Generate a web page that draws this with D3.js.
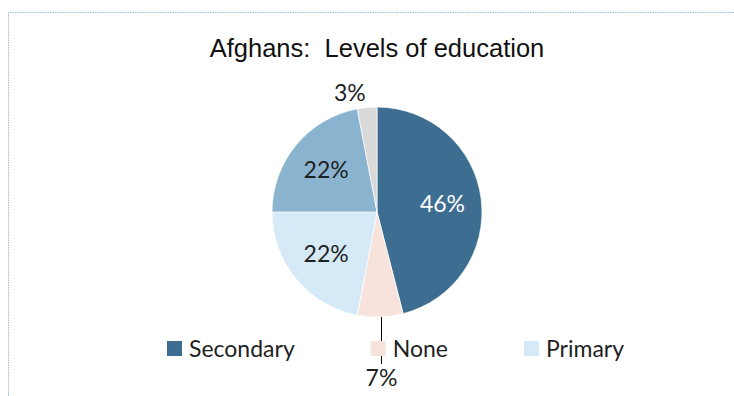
<!DOCTYPE html>
<html>
<head>
<meta charset="utf-8">
<script src="https://cdn.jsdelivr.net/npm/d3@7"></script>
<style>
  html, body { margin: 0; padding: 0; background: #fff; }
  svg { display: block; }
</style>
</head>
<body>
<svg id="chart" width="734" height="396"></svg>
<script>
// Education levels of Afghans (percent of respondents)
const categories = ["Secondary", "None", "Primary", "Higher", "Other"];
const values = [46, 7, 22, 22, 3];
const colors = ["#3D6E92", "#F7E3DB", "#D5E9F7", "#8AB3CF", "#D9D9D9"];
const legendCategories = ["Secondary", "None", "Primary"];
const titleText = "Afghans:  Levels of education";

// Labels that sit outside the pie, with their distance from the centre
const outsideLabels = { None: { dist: 166, anchor: "middle", leader: true },
                        Other: { dist: 120, anchor: "end", leader: false } };

const W = 734, H = 396;
const cx = 377, cy = 212, R = 105;
const labelFont = "Lato, 'Open Sans', sans-serif";

const svg = d3.select("#chart");

// Dotted frame of the chart area
svg.append("path")
  .attr("d", `M8.5,${H + 5} V12.5 H${W + 5}`)
  .attr("fill", "none")
  .attr("stroke", "#9CC0E2")
  .attr("stroke-width", 1)
  .attr("stroke-dasharray", "1.5,1");

// Title
svg.append("text")
  .attr("x", cx)
  .attr("y", 57)
  .attr("text-anchor", "middle")
  .attr("font-family", "'Liberation Sans', Arial, sans-serif")
  .attr("font-size", 25.5)
  .attr("fill", "#111")
  .style("white-space", "pre")
  .text(titleText);

const data = categories.map((c, i) => ({ category: c, value: values[i], color: colors[i] }));

const pie = d3.pie().sort(null).value(d => d.value).startAngle(0).endAngle(2 * Math.PI);
const arcs = pie(data);

const arc = d3.arc().innerRadius(0).outerRadius(R);
const labelArc = d3.arc().innerRadius(66).outerRadius(66);

const g = svg.append("g").attr("transform", `translate(${cx},${cy})`);

g.selectAll("path.slice")
  .data(arcs)
  .join("path")
  .attr("class", "slice")
  .attr("d", arc)
  .attr("fill", d => d.data.color)
  .attr("stroke", "#ffffff")
  .attr("stroke-width", 0.7);

const pct = d => d3.format(".0f")(d.data.value) + "%";

// Leader lines for outside labels (drawn below the legend swatches)
const leaderLayer = svg.append("g");

// Labels inside the slices
g.selectAll("text.inner")
  .data(arcs.filter(d => !outsideLabels[d.data.category]))
  .join("text")
  .attr("class", "inner")
  .attr("transform", d => `translate(${labelArc.centroid(d)})`)
  .attr("text-anchor", "middle")
  .attr("dy", "0.36em")
  .attr("font-family", labelFont)
  .attr("font-size", 23)
  .attr("fill", d => d.data.category === "Secondary" ? "#ffffff" : "#1f1f1f")
  .text(pct);

// Labels outside the pie
arcs.filter(d => outsideLabels[d.data.category]).forEach(d => {
  const o = outsideLabels[d.data.category];
  const mid = (d.startAngle + d.endAngle) / 2;
  const lx = o.dist * Math.sin(mid);
  const ly = -o.dist * Math.cos(mid);
  if (o.leader) {
    // snap the vertical leader to the pixel grid so it stays crisp
    const px = Math.round(cx + lx) - 0.5;
    const ey = cy - R * Math.cos(mid);
    leaderLayer.append("line")
      .attr("x1", px).attr("y1", ey)
      .attr("x2", px).attr("y2", cy + ly - 14)
      .attr("stroke", "#000")
      .attr("stroke-width", 1);
    g.append("text")
      .attr("x", px - cx)
      .attr("y", ly)
      .attr("dy", "0.36em")
      .attr("text-anchor", o.anchor)
      .attr("font-family", labelFont)
      .attr("font-size", 23)
      .attr("fill", "#1f1f1f")
      .text(pct(d));
  } else {
    g.append("text")
      .attr("x", lx)
      .attr("y", ly)
      .attr("dy", "0.36em")
      .attr("text-anchor", o.anchor)
      .attr("font-family", labelFont)
      .attr("font-size", 23)
      .attr("fill", "#1f1f1f")
      .text(pct(d));
  }
});

// Legend
const legend = svg.append("g").attr("transform", "translate(167,341)");
let xPos = 0;
legendCategories.forEach(c => {
  const i = categories.indexOf(c);
  const item = legend.append("g").attr("transform", `translate(${xPos},0)`);
  item.append("rect")
    .attr("width", 15).attr("height", 15)
    .attr("fill", colors[i]);
  const t = item.append("text")
    .attr("x", 22)
    .attr("y", 15.5)
    .attr("font-family", labelFont)
    .attr("font-size", 23)
    .attr("fill", "#1f1f1f")
    .text(c);
  xPos += 22 + t.node().getComputedTextLength() + 76;
});
</script>
</body>
</html>
